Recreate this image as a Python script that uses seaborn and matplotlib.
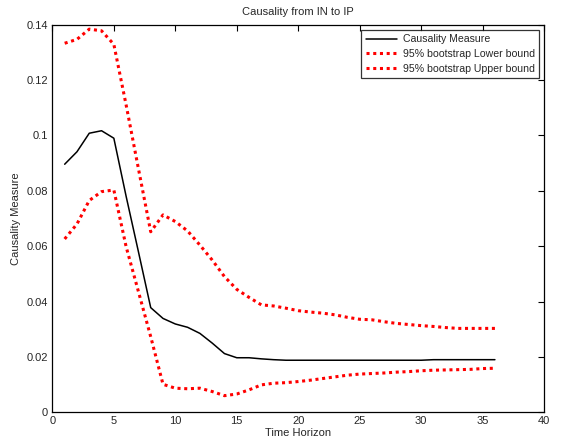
import matplotlib
matplotlib.use("Agg")
import matplotlib.pyplot as plt
import seaborn as sb
import numpy as np
import pandas as pd

# Time horizon 1..36
horizon = list(range(1, 37))

causality = [0.0896, 0.0941, 0.1008, 0.1017, 0.0990, 0.0780, 0.0580, 0.0378, 0.0339, 0.0319,
             0.0307, 0.0285, 0.0250, 0.0212, 0.0197, 0.0197, 0.0193, 0.0190, 0.0188, 0.0188,
             0.0188, 0.0188, 0.0188, 0.0188, 0.0188, 0.0188, 0.0188, 0.0188, 0.0188, 0.0188,
             0.0190, 0.0190, 0.0190, 0.0190, 0.0190, 0.0190]

upper = [0.1333, 0.1347, 0.1384, 0.1378, 0.1329, 0.1110, 0.0880, 0.0652, 0.0713, 0.0689,
         0.0655, 0.0604, 0.0550, 0.0490, 0.0444, 0.0415, 0.0388, 0.0384, 0.0376, 0.0367,
         0.0362, 0.0358, 0.0352, 0.0343, 0.0336, 0.0334, 0.0327, 0.0321, 0.0317, 0.0313,
         0.0310, 0.0306, 0.0303, 0.0303, 0.0303, 0.0303]

lower = [0.0626, 0.0680, 0.0765, 0.0797, 0.0803, 0.0598, 0.0436, 0.0273, 0.0101, 0.0087,
         0.0085, 0.0087, 0.0075, 0.0060, 0.0066, 0.0081, 0.0099, 0.0105, 0.0107, 0.0111,
         0.0116, 0.0122, 0.0128, 0.0134, 0.0138, 0.0140, 0.0142, 0.0145, 0.0147, 0.0150,
         0.0152, 0.0153, 0.0154, 0.0155, 0.0158, 0.0159]

xticks = [0, 5, 10, 15, 20, 25, 30, 35, 40]
yticks = [0, 0.02, 0.04, 0.06, 0.08, 0.1, 0.12, 0.14]
ytick_labels = ['0', '0.02', '0.04', '0.06', '0.08', '0.1', '0.12', '0.14']

df = pd.DataFrame({'h': horizon, 'cm': causality, 'lo': lower, 'up': upper})

sb.set_style("white")
plt.rcParams['font.family'] = ['Liberation Sans', 'DejaVu Sans']
plt.rcParams['xtick.direction'] = 'in'
plt.rcParams['ytick.direction'] = 'in'

DOTS = (1, 1.2)

fig = plt.figure(figsize=(5.65, 4.46), dpi=100)
ax = fig.add_axes([0.0927, 0.0756, 0.8703, 0.869])

# black measure, then the two bootstrap bounds as thick red dots
sb.lineplot(ax=ax, data=df, x='h', y='cm', color='black', linewidth=1.1,
            label='Causality Measure')
sb.lineplot(ax=ax, data=df, x='h', y='lo', color='red', linewidth=2.2,
            label='95% bootstrap Lower bound')
sb.lineplot(ax=ax, data=df, x='h', y='up', color='red', linewidth=2.2,
            label='95% bootstrap Upper bound')
for ln in ax.lines[1:3]:
    ln.set_dashes(DOTS)

ax.set_xlim(0, 40)
ax.set_ylim(0, 0.14)
ax.set_xticks(xticks)
ax.set_yticks(yticks)
ax.set_yticklabels(ytick_labels)
ax.tick_params(axis='both', labelsize=8, length=4, width=0.8, color='black',
               top=True, right=True, pad=3)
for sp in ax.spines.values():
    sp.set_visible(True)
    sp.set_color('black')
    sp.set_linewidth(0.9)

ax.set_xlabel('Time Horizon', fontsize=8, labelpad=1)
ax.set_ylabel('Causality Measure', fontsize=8, labelpad=4)
ax.set_title('Causality from IN to IP', fontsize=8, pad=7)

leg = ax.legend(loc='upper right', fontsize=7.6, frameon=True, fancybox=False,
                borderaxespad=0.5, handlelength=3.0, handletextpad=0.5,
                labelspacing=0.45, borderpad=0.4)
leg.get_frame().set_edgecolor('black')
leg.get_frame().set_linewidth(0.9)
for h in leg.get_lines()[1:]:
    h.set_dashes(DOTS)

fig.savefig('out.png', dpi=100)
